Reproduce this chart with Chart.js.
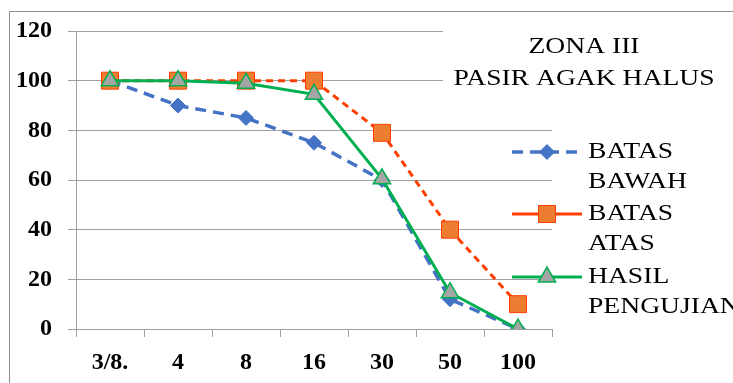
<html>
  <head>
    <script src="https://cdn.jsdelivr.net/npm/chart.js@4/dist/chart.umd.min.js"></script>
    <style>
      body { margin: 0; background: #fff; }
      #wrap { width: 733px; height: 383px; }
    </style>
  </head>
  <body>
    <div id="wrap"><canvas id="grading"></canvas></div>
    <script>
      // sieve numbers and passing percentages
      const sieves = ['3/8.', '4', '8', '16', '30', '50', '100'];
      const batasBawah = [100, 90, 85, 75, 60, 12, 0];
      const batasAtas = [100, 100, 100, 100, 79, 40, 10];
      const hasilPengujian = [100, 100, 99, 94.5, 60.5, 14.6, 0];
      const titleLines = ['ZONA III', 'PASIR AGAK HALUS'];
      const legendNames = [['BATAS', 'BAWAH'], ['BATAS', 'ATAS'], ['HASIL', 'PENGUJIAN']];

      const serif = '"Liberation Serif", "Times New Roman", serif';

      // the source picture is a bit stretched sideways, so text is widened
      function wideText(ctx, text, x, y, align) {
        ctx.save();
        ctx.translate(x, y);
        ctx.scale(1.2, 1);
        ctx.textAlign = align;
        ctx.textBaseline = 'middle';
        ctx.fillText(text, 0, 0);
        ctx.restore();
      }

      const frame = {
        id: 'frame',
        beforeDraw(chart) {
          const ctx = chart.ctx;
          ctx.save();
          ctx.strokeStyle = '#8c8c8c';
          ctx.lineWidth = 1;
          ctx.beginPath();
          ctx.moveTo(9.5, 383);
          ctx.lineTo(9.5, 11.5);
          ctx.lineTo(733, 11.5);
          ctx.stroke();
          ctx.restore();
        },
        beforeDatasetsDraw(chart) {
          const ctx = chart.ctx;
          ctx.save();
          ctx.fillStyle = '#fff';
          ctx.fillRect(443, 13, 290, 90);
          ctx.fillStyle = '#000';
          ctx.font = '23px ' + serif;
          wideText(ctx, titleLines[0], 584, 47, 'center');
          wideText(ctx, titleLines[1], 584, 79, 'center');
          ctx.restore();
        },
        afterDraw(chart) {
          const ctx = chart.ctx;
          const rows = [152, 214, 277];
          ctx.save();
          chart.data.datasets.forEach((ds, i) => {
            const y = rows[i];
            ctx.strokeStyle = ds.borderColor;
            ctx.lineWidth = ds.borderWidth;
            ctx.setLineDash(i === 0 ? ds.borderDash : []);
            ctx.beginPath();
            ctx.moveTo(512, y);
            ctx.lineTo(582, y);
            ctx.stroke();
            ctx.setLineDash([]);
            ctx.fillStyle = ds.pointBackgroundColor;
            ctx.strokeStyle = ds.pointBorderColor;
            ctx.lineWidth = ds.pointBorderWidth;
            Chart.helpers.drawPoint(ctx, {
              pointStyle: ds.pointStyle,
              radius: ds.pointRadius,
              borderWidth: ds.pointBorderWidth
            }, 547, y);
            ctx.fillStyle = '#000';
            ctx.font = '23px ' + serif;
            legendNames[i].forEach((t, k) => wideText(ctx, t, 588, y + k * 30, 'left'));
          });
          ctx.restore();
        }
      };

      new Chart(document.getElementById('grading'), {
        type: 'line',
        data: {
          labels: sieves,
          datasets: [
            {
              label: 'BATAS BAWAH',
              data: batasBawah,
              borderColor: '#4472c4',
              borderWidth: 3.5,
              borderDash: [11, 7],
              pointStyle: 'rectRot',
              pointRadius: 7.5,
              pointBackgroundColor: '#4472c4',
              pointBorderColor: '#4472c4',
              pointBorderWidth: 1,
              order: 3
            },
            {
              label: 'BATAS ATAS',
              data: batasAtas,
              borderColor: '#ff3f00',
              borderWidth: 3,
              borderDash: [7, 5],
              pointStyle: 'rect',
              pointRadius: 12,
              pointBackgroundColor: '#ed7d31',
              pointBorderColor: '#ff3f00',
              pointBorderWidth: 1,
              order: 2
            },
            {
              label: 'HASIL PENGUJIAN',
              data: hasilPengujian,
              borderColor: '#00b050',
              borderWidth: 3,
              pointStyle: 'triangle',
              pointRadius: 10,
              pointBackgroundColor: '#a5a5a5',
              pointBorderColor: '#00b050',
              pointBorderWidth: 1.5,
              order: 1
            }
          ]
        },
        options: {
          responsive: true,
          maintainAspectRatio: false,
          animation: false,
          layout: { padding: { top: 31, right: 181, left: 0, bottom: 0 } },
          plugins: { legend: { display: false }, tooltip: { enabled: false } },
          scales: {
            x: {
              offset: true,
              afterFit(scale) { scale.height = 54; },
              grid: { offset: true, drawOnChartArea: false, drawTicks: true, tickLength: 8, color: '#a0a0a0' },
              border: { color: '#a0a0a0' },
              ticks: { color: '#000', padding: 11, font: { family: serif, size: 24, weight: 'bold' } }
            },
            y: {
              min: 0,
              max: 120,
              afterFit(scale) { scale.width = 76; },
              grid: { color: '#a0a0a0', tickLength: 8 },
              border: { color: '#a0a0a0' },
              ticks: { stepSize: 20, color: '#000', padding: 16, font: { family: serif, size: 24, weight: 'bold' } }
            }
          }
        },
        plugins: [frame]
      });
    </script>
  </body>
</html>
